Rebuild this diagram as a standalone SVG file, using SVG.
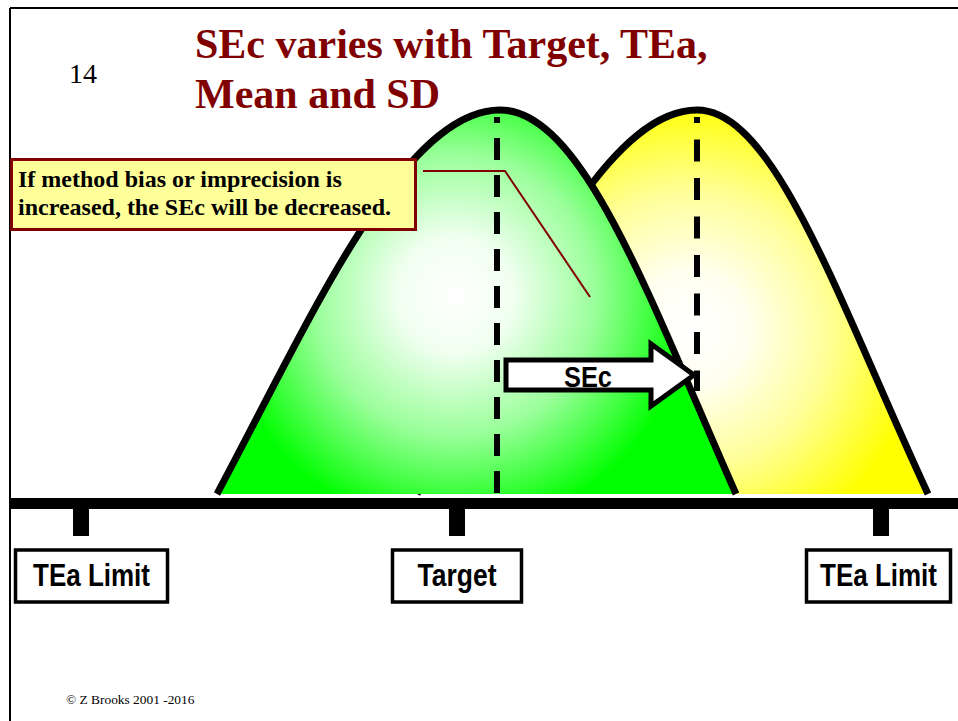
<svg xmlns="http://www.w3.org/2000/svg" width="958" height="721" viewBox="0 0 958 721">
<defs>
<radialGradient id="gGreen" gradientUnits="userSpaceOnUse" cx="455" cy="295" r="235">
<stop offset="0" stop-color="#ffffff"/>
<stop offset="0.25" stop-color="#f0fff0"/>
<stop offset="0.6" stop-color="#99ff99"/>
<stop offset="1" stop-color="#00ff00"/>
</radialGradient>
<radialGradient id="gYellow" gradientUnits="userSpaceOnUse" cx="690" cy="330" r="230">
<stop offset="0" stop-color="#ffffff"/>
<stop offset="0.25" stop-color="#fffff0"/>
<stop offset="0.6" stop-color="#ffff99"/>
<stop offset="1" stop-color="#ffff00"/>
</radialGradient>
<style>
.curve{fill:none;stroke:#000;stroke-width:7}
.dash{stroke:#000;stroke-width:6;stroke-dasharray:22 15}
.lbox{fill:#fff;stroke:#000;stroke-width:3.5}
.ltxt{font-family:"Liberation Sans",Arial,sans-serif;font-weight:bold;font-size:31px;fill:#000;text-anchor:middle}
.serif{font-family:"Liberation Serif","Times New Roman",serif}
</style>
</defs>

<g id="frame">
<line x1="10" y1="8" x2="958" y2="8" stroke="#000" stroke-width="2"/>
<line x1="10" y1="8" x2="10" y2="721" stroke="#000" stroke-width="2"/>
</g>

<g id="title">
<text class="serif" x="69" y="83" font-size="28" fill="#000">14</text>
<text class="serif" x="195" y="58" font-size="42" font-weight="bold" fill="#800000">SEc varies with Target, TEa,</text>
<text class="serif" x="195" y="108" font-size="42" font-weight="bold" fill="#800000">Mean and SD</text>
</g>

<g id="yellow-curve">
<path d="M417,494 C510,320 600,110 697,110 C775,110 838,300 928,494 Z" fill="url(#gYellow)"/>
<path class="curve" d="M417,494 C510,320 600,110 697,110 C775,110 838,300 928,494"/>
<line class="dash" x1="697" y1="117" x2="697" y2="391" style="stroke-dasharray:22 16.5" stroke-dashoffset="16"/>
</g>

<g id="green-curve">
<path d="M217,494 C310,320 402,110 500,110 C583,110 650,300 736,494 Z" fill="url(#gGreen)"/>
<path class="curve" d="M217,494 C310,320 402,110 500,110 C583,110 650,300 736,494"/>
<line class="dash" x1="497" y1="117" x2="497" y2="495" stroke-dashoffset="16"/>
</g>

<g id="axis">
<rect x="10" y="498" width="948" height="11" fill="#000"/>
<rect x="73" y="509" width="16" height="27" fill="#000"/>
<rect x="449" y="509" width="16" height="27" fill="#000"/>
<rect x="873" y="509" width="16" height="27" fill="#000"/>
</g>

<g id="label-tea-left">
<rect class="lbox" x="15.5" y="550" width="152" height="52"/>
<text class="ltxt" x="91.5" y="586" textLength="117" lengthAdjust="spacingAndGlyphs">TEa Limit</text>
</g>
<g id="label-target">
<rect class="lbox" x="392.5" y="550" width="129" height="52"/>
<text class="ltxt" x="457" y="586" textLength="79" lengthAdjust="spacingAndGlyphs">Target</text>
</g>
<g id="label-tea-right">
<rect class="lbox" x="806.5" y="550" width="144" height="52"/>
<text class="ltxt" x="878.5" y="586" textLength="117" lengthAdjust="spacingAndGlyphs">TEa Limit</text>
</g>

<g id="sec-arrow">
<path d="M506,360 L651,360 L651,344 L694,375 L651,406 L651,390 L506,390 Z" fill="#fff" stroke="#000" stroke-width="5"/>
<text x="588" y="387" font-family="'Liberation Sans',Arial,sans-serif" font-weight="bold" font-size="30" text-anchor="middle" textLength="48" lengthAdjust="spacingAndGlyphs">SEc</text>
</g>

<g id="connectors">
<polyline points="423,171 505,171 590,297" fill="none" stroke="#800000" stroke-width="2"/>
</g>

<g id="callout">
<rect x="11.5" y="159.5" width="404" height="70" fill="#ffff99" stroke="#800000" stroke-width="3"/>
<text class="serif" x="18" y="187" font-size="24" font-weight="bold" fill="#000">If method bias or imprecision is</text>
<text class="serif" x="18" y="215" font-size="24" font-weight="bold" fill="#000">increased, the SEc will be decreased.</text>
</g>

<g id="footer">
<text class="serif" x="66" y="704" font-size="13.4" fill="#000">© Z Brooks 2001 -2016</text>
</g>
</svg>
